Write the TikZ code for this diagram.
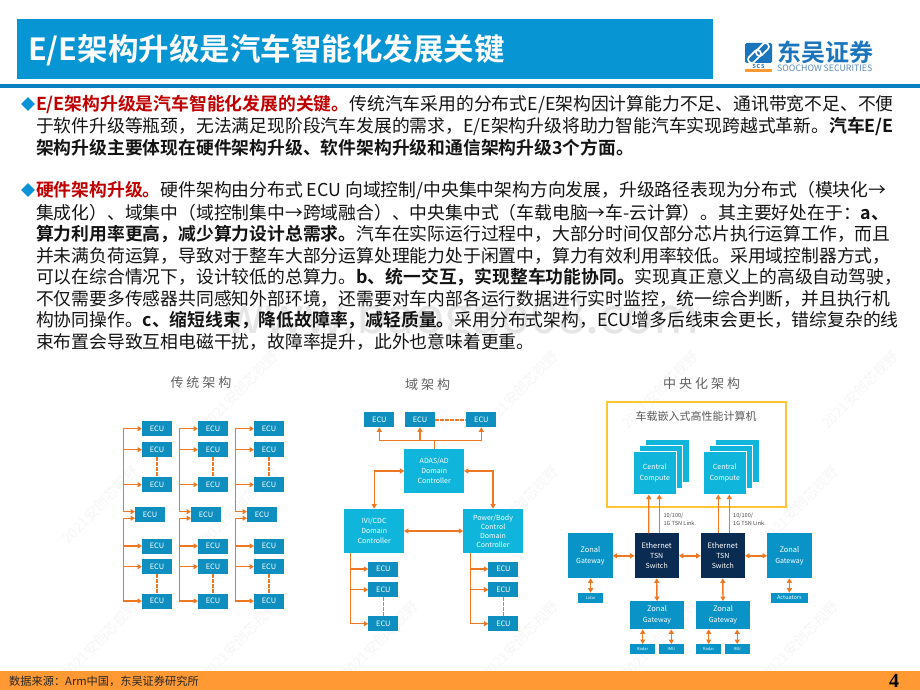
\documentclass[tikz,border=0pt]{standalone}
\usepackage{fontspec}
\setmainfont{Noto Sans CJK SC}[BoldFont={Noto Sans CJK SC Bold}]
\newfontfamily\numf{Liberation Serif}
\usetikzlibrary{arrows.meta,shapes.geometric}
\definecolor{titleblue}{HTML}{0795D3}
\definecolor{rulecol}{HTML}{0A7FC2}
\definecolor{footcol}{HTML}{FF9933}
\definecolor{ecublue}{HTML}{0F8FBF}
\definecolor{domblue}{HTML}{0FB5DA}
\definecolor{gwblue}{HTML}{0A93C6}
\definecolor{swnavy}{HTML}{0B2C52}
\definecolor{wire}{HTML}{EE7722}
\definecolor{yel}{HTML}{FFC534}
\definecolor{redt}{HTML}{C00000}
\definecolor{diam}{HTML}{0A93D6}
\definecolor{logob}{HTML}{1B75BC}
\definecolor{logog}{HTML}{5B8DB8}
\tikzset{
 x=1pt,y=-1pt,
 boxbase/.style={inner sep=0pt,outer sep=0pt,text=white,align=center,font=\fontsize{7}{9}\selectfont},
 ecu/.style={boxbase,fill=ecublue,minimum width=30pt,minimum height=15pt,font=\fontsize{7.4}{9}\selectfont},
 dom/.style={boxbase,fill=domblue,minimum width=59.5pt,minimum height=44.6pt},
 cen/.style={boxbase,fill=domblue,draw=white,line width=0.9pt,minimum width=43.5pt,minimum height=43.5pt},
 sw/.style={boxbase,fill=swnavy,minimum width=44.2pt,minimum height=45pt},
 gw/.style={boxbase,fill=gwblue,minimum width=44.6pt,minimum height=45pt},
 gwb/.style={boxbase,fill=gwblue,minimum width=53.4pt,minimum height=28.3pt},
 sm/.style={boxbase,fill=gwblue,minimum width=24.7pt,minimum height=10.4pt,font=\fontsize{4}{5}\selectfont},
 one/.style={draw=wire,line width=1.4pt,-{Triangle[length=4.5pt,width=5pt]}},
 both/.style={draw=wire,line width=1.4pt,{Triangle[length=4.5pt,width=5pt]}-{Triangle[length=4.5pt,width=5pt]}},
 plain/.style={draw=wire,line width=1.4pt},
 dsh/.style={draw=wire,line width=1.4pt,dash pattern=on 3.5pt off 1.5pt},
 linetxt/.style={anchor=west,inner sep=0pt,outer sep=0pt,font=\fontsize{17.8}{20}\selectfont,text=black!92},
 head/.style={inner sep=0pt,text=black!62,font=\fontsize{13}{15}\selectfont},
 wm/.style={inner sep=0pt,text=black!3.5,rotate=45,font=\fontsize{14}{16}\selectfont},
 bul/.style={fill=diam,inner sep=0pt,minimum size=14pt,diamond},
 ring/.style={draw=white,line width=1.7pt,rounded corners=3pt,rotate=45,minimum width=15pt,minimum height=7pt,inner sep=0pt},
}
\newcommand{\rt}[1]{{\bfseries\color{redt}#1}}
\newcommand{\bt}[1]{{\bfseries #1}}
\begin{document}
\begin{tikzpicture}
\useasboundingbox (0,0) rectangle (920,690);
\fill[white] (0,0) rectangle (920,690);
% watermarks
\foreach \wx/\wy in {100/640,240/640,380/640,520/640,660/640,800/640,100/505,240/505,520/505,800/505,240/390,520/390,660/390,860/390}
  \node[wm] at (\wx,\wy) {2021安创芯视野};
\node[inner sep=0pt,text=black!10,font=\fontsize{50}{52}\selectfont] (wmurl) at (462,320) {www.baogao08.com};
% header
\fill[titleblue] (17,19) rectangle (713,79);
\fill[rulecol] (0,84) rectangle (920,88);
\node[anchor=west,inner sep=0pt,text=white,font=\bfseries\fontsize{30.5}{32}\selectfont] (title) at (28,50) {E/E架构升级是汽车智能化发展关键};
% logo
\fill[logob,rounded corners=1.5pt] (745,43) rectangle (772,63);
\node[ring] (lr1) at (754.5,56.5) {};
\node[ring] (lr2) at (762.5,49.5) {};
\node[inner sep=0pt,text=logob,font=\bfseries\fontsize{5.5}{6}\selectfont] (scs) at (758.5,66.3) {S\,C\,S};
\fill[footcol] (745,69.5) rectangle (772,72);
\node[anchor=west,inner sep=0pt,text=logob,font=\bfseries\fontsize{24}{25}\selectfont] (lg1) at (777,52.5) {东吴证券};
\node[anchor=west,inner sep=0pt,text=logog,font=\fontsize{8.8}{9}\selectfont] (lg2) at (777,68.3) {SOOCHOW SECURITIES};
% body text
\node[bul] (b1) at (28,104) {};
\node[bul] (b2) at (28,190) {};
\node[linetxt] (t1) at (36,104.5) {\rt{E/E架构升级是汽车智能化发展的关键。}传统汽车采用的分布式E/E架构因计算能力不足、通讯带宽不足、不便};
\node[linetxt] (t2) at (36,126.5) {于软件升级等瓶颈，无法满足现阶段汽车发展的需求，E/E架构升级将助力智能汽车实现跨越式革新。\bt{汽车E/E}};
\node[linetxt] (t3) at (36,148) {\bt{架构升级主要体现在硬件架构升级、软件架构升级和通信架构升级3个方面。}};
\node[linetxt] (t4) at (36,190.5) {\rt{硬件架构升级。}硬件架构由分布式 ECU 向域控制/中央集中架构方向发展，升级路径表现为分布式（模块化→};
\node[linetxt] (t5) at (36,213) {集成化）、域集中（域控制集中→跨域融合）、中央集中式（车载电脑→车-云计算）。其主要好处在于：\bt{a、}};
\node[linetxt] (t6) at (36,234) {\bt{算力利用率更高，减少算力设计总需求。}汽车在实际运行过程中，大部分时间仅部分芯片执行运算工作，而且};
\node[linetxt] (t7) at (36,255.5) {并未满负荷运算，导致对于整车大部分运算处理能力处于闲置中，算力有效利用率较低。采用域控制器方式，};
\node[linetxt] (t8) at (36,277) {可以在综合情况下，设计较低的总算力。\bt{b、统一交互，实现整车功能协同。}实现真正意义上的高级自动驾驶，};
\node[linetxt] (t9) at (36,298.5) {不仅需要多传感器共同感知外部环境，还需要对车内部各运行数据进行实时监控，统一综合判断，并且执行机};
\node[linetxt] (t10) at (36,320.5) {构协同操作。\bt{c、缩短线束，降低故障率，减轻质量。}采用分布式架构，ECU增多后线束会更长，错综复杂的线};
\node[linetxt] (t11) at (36,341.5) {束布置会导致互相电磁干扰，故障率提升，此外也意味着更重。};
% section titles
\node[head] (h1) at (201,382.7) {传\kern3pt 统\kern3pt 架\kern3pt 构};
\node[head] (h2) at (427.7,385) {域\kern3pt 架\kern3pt 构};
\node[head] (h3) at (701.7,383.3) {中\kern3pt 央\kern3pt 化\kern3pt 架\kern3pt 构};
% traditional architecture
\foreach \c/\dx in {a/0,b/56,c/112}{
  \coordinate (bus\c) at (123.3+\dx,428.7);
  \node[ecu] (\c1) at (157+\dx,428.7) {ECU};
  \node[ecu] (\c2) at (157+\dx,449.7) {ECU};
  \node[ecu] (\c3) at (157+\dx,484.7) {ECU};
  \node[ecu] (\c4) at (150+\dx,514.7) {ECU};
  \node[ecu] (\c5) at (157+\dx,546) {ECU};
  \node[ecu] (\c6) at (157+\dx,566.7) {ECU};
  \node[ecu] (\c7) at (157+\dx,601) {ECU};
  \coordinate (mu\c) at ([yshift=3pt]\c4.west);
  \coordinate (md\c) at ([yshift=-3.5pt]\c4.west);
  \draw[one] (\c1.west -| bus\c) -- (\c1.west);
  \draw[plain] (\c1.west -| bus\c) -- (mu\c -| bus\c);
  \draw[one] (mu\c -| bus\c) -- (mu\c);
  \draw[one] (\c2.west -| bus\c) -- (\c2.west);
  \draw[one] (\c3.west -| bus\c) -- (\c3.west);
  \draw[one] (md\c -| bus\c) -- (md\c);
  \draw[plain] (md\c -| bus\c) -- (\c7.west -| bus\c);
  \draw[one] (\c5.west -| bus\c) -- (\c5.west);
  \draw[one] (\c6.west -| bus\c) -- (\c6.west);
  \draw[one] (\c7.west -| bus\c) -- (\c7.west);
  \draw[dsh] (\c2.south) -- (\c3.north);
  \draw[dsh] (\c6.south) -- (\c7.north);
}
% domain architecture
\node[ecu] (de1) at (379.3,419.8) {ECU};
\node[ecu] (de2) at (420,419.8) {ECU};
\node[ecu] (de3) at (481.3,419.8) {ECU};
\node[dom] (adas) at (434.2,471) {ADAS/AD\\[1pt]Domain\\[1pt]Controller};
\node[dom] (ivi) at (374.2,531) {IVI/CDC\\[1pt]Domain\\[1pt]Controller};
\node[dom] (pow) at (493,531) {Power/Body\\[0pt]Control\\[0pt]Domain\\[0pt]Controller};
\node[ecu] (dl1) at (383.3,569) {ECU};
\node[ecu] (dl2) at (383.3,589.7) {ECU};
\node[ecu] (dl3) at (383.3,623.7) {ECU};
\node[ecu] (dr1) at (503.4,569) {ECU};
\node[ecu] (dr2) at (503.4,589.7) {ECU};
\node[ecu] (dr3) at (503.4,623.7) {ECU};
\coordinate (jt) at (adas.north |- 0,440.7);
\draw[plain] (adas.north) -- (jt);
\draw[one] (jt) -| (de1.south);
\draw[one] (jt) -| (de3.south);
\draw[one] (de2.south |- jt) -- (de2.south);
\draw[dsh] (de2.east) -- (de3.west);
\draw[both] (adas.west) -| (ivi.north);
\draw[both] (adas.east) -| (pow.north);
\draw[both] (ivi.east) -- (pow.west);
\coordinate (lb) at (350.3,553.3);
\coordinate (rb) at (470.3,553.3);
\draw[one] (lb) |- (dl3.west);
\draw[one] (lb |- dl1.west) -- (dl1.west);
\draw[one] (lb |- dl2.west) -- (dl2.west);
\draw[one] (rb) |- (dr3.west);
\draw[one] (rb |- dr1.west) -- (dr1.west);
\draw[one] (rb |- dr2.west) -- (dr2.west);
\draw[dsh] (dl2.south) -- (dl3.north);
\draw[dsh] (dr2.south) -- (dr3.north);
% central architecture
\draw[yel,line width=1.8pt] (606.7,402.3) rectangle (786,506.7);
\node[inner sep=0pt,text=black!65,font=\fontsize{11}{13}\selectfont] (cap) at (696,416) {车载嵌入式高性能计算机};
\foreach \n/\dx in {l/0,r/70}{
  \node[cen] (\n c3) at (667.5+\dx,461) {};
  \node[cen] (\n c2) at (661+\dx,467) {};
  \node[cen] (\n c1) at (654.8+\dx,472.8) {Central\\[2pt]Compute};
}
\node[sw] (s1) at (656.7,555.8) {\fontsize{7.5}{9}\selectfont Ethernet\\[1pt]TSN\\[1pt]Switch};
\node[sw] (s2) at (722.8,555.8) {\fontsize{7.5}{9}\selectfont Ethernet\\[1pt]TSN\\[1pt]Switch};
\node[gw] (g1) at (590.3,555.8) {\fontsize{7.5}{9}\selectfont Zonal\\[2pt]Gateway};
\node[gw] (g2) at (789.4,555.8) {\fontsize{7.5}{9}\selectfont Zonal\\[2pt]Gateway};
\node[gwb] (g3) at (657,615.2) {\fontsize{7.5}{9}\selectfont Zonal\\[2pt]Gateway};
\node[gwb] (g4) at (723,615.2) {\fontsize{7.5}{9}\selectfont Zonal\\[2pt]Gateway};
\node[sm] (lidar) at (590.6,597.9) {Lidar};
\node[sm,minimum width=37.3pt,font=\fontsize{5.5}{6}\selectfont] (act) at (789.4,597.9) {Actuators};
\node[sm] (r1) at (642.7,649.2) {Radar};
\node[sm] (i1) at (671.3,649.2) {IMU};
\node[sm] (r2) at (708.7,649.2) {Radar};
\node[sm] (i2) at (737.2,649.2) {IMU};
\draw[one] ([xshift=-8pt]s1.north) -- ([xshift=-6pt]lc1.south);
\draw[one] ([xshift=2.6pt]s1.north) -- ([xshift=4.5pt]lc1.south);
\draw[one] ([xshift=-4.5pt]s2.north) -- ([xshift=-6.5pt]rc1.south);
\draw[one] ([xshift=6.5pt]s2.north) -- ([xshift=4.5pt]rc1.south);
\node[anchor=north west,inner sep=0pt,align=left,text=black!70,font=\fontsize{5.6}{7.4}\selectfont] (lk1) at (663.3,513) {10/100/\\1G TSN Link.};
\node[anchor=north west,inner sep=0pt,align=left,text=black!70,font=\fontsize{5.6}{7.4}\selectfont] (lk2) at (733,513) {10/100/\\1G TSN Link.};
\draw[both] (g1.east) -- (s1.west);
\draw[both] (s1.east) -- (s2.west);
\draw[both] (s2.east) -- (g2.west);
\draw[both] (g1.south -| lidar.north) -- (lidar.north);
\draw[both] (g2.south -| act.north) -- (act.north);
\draw[both] (s1.south) -- (g3.north);
\draw[both] (s2.south) -- (g4.north);
\draw[both] (g3.south -| r1.north) -- (r1.north);
\draw[both] (g3.south -| i1.north) -- (i1.north);
\draw[both] (g4.south -| r2.north) -- (r2.north);
\draw[both] (g4.south -| i2.north) -- (i2.north);
% footer
\fill[footcol] (0,671) rectangle (920,690);
\node[anchor=west,inner sep=0pt,text=black!85,font=\fontsize{11.2}{13}\selectfont] (src) at (9,681.5) {数据来源：Arm中国，东吴证券研究所};
\node[inner sep=0pt,text=black,font=\numf\bfseries\fontsize{20}{22}\selectfont] (pg) at (894,680.5) {4};
\end{tikzpicture}
\end{document}
